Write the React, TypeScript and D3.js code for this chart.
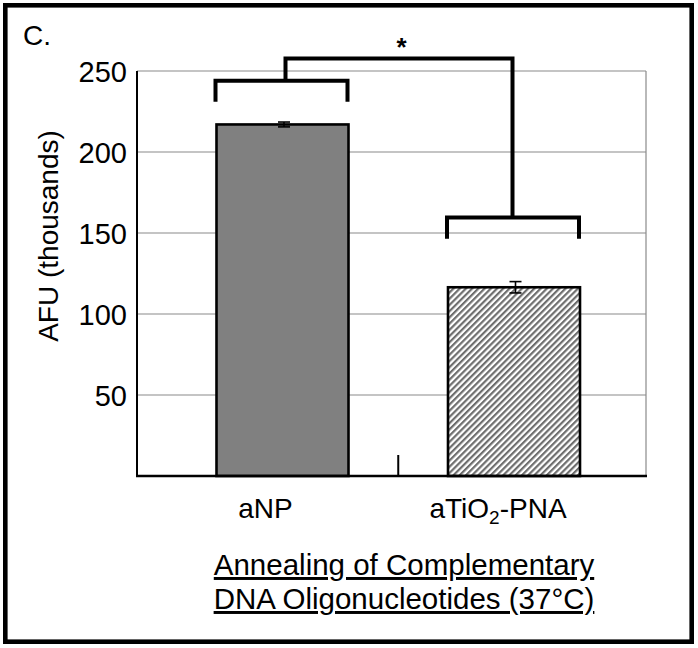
import React from "react";
import * as d3 from "d3";

const categories = ["aNP", "aTiO2-PNA"];
const values = [217, 116.5];
const errors = [1.5, 3.5];
const yTicks = [50, 100, 150, 200, 250];
const bracketArm = [244, 159.5];
const bracketLeg = [231, 146.5];
const bracketTop = 257.7;

const W = 698;
const H = 648;
const plotLeft = 137;
const plotRight = 646;
const plotTop = 71;
const plotBottom = 476;
const barW = 132;
const font = "'Liberation Sans', Arial, Helvetica, sans-serif";

export default function App() {
  const y = d3.scaleLinear().domain([0, 250]).range([plotBottom, plotTop]);
  const x = d3.scalePoint<string>().domain(categories).range([282.5, 514]).padding(0);
  const xs = categories.map((c) => x(c) as number);
  const divider = (xs[0] + xs[1]) / 2;
  const bk = d3.path();
  xs.forEach((cx, i) => {
    bk.moveTo(cx - barW / 2 - 1, y(bracketLeg[i]));
    bk.lineTo(cx - barW / 2 - 1, y(bracketArm[i]));
    bk.lineTo(cx + barW / 2 - 1, y(bracketArm[i]));
    bk.lineTo(cx + barW / 2 - 1, y(bracketLeg[i]));
  });
  bk.moveTo(xs[0] + 3, y(bracketArm[0]));
  bk.lineTo(xs[0] + 3, y(bracketTop));
  bk.lineTo(xs[1] - 1.5, y(bracketTop));
  bk.lineTo(xs[1] - 1.5, y(bracketArm[1]));

  return (
    <svg width={W} height={H} style={{ position: "absolute", left: 0, top: 0, background: "#fff" }} fontFamily={font}>
      <defs>
        <pattern id="hatch" patternUnits="userSpaceOnUse" width={4.4} height={4.4} patternTransform="rotate(45)">
          <rect width={4.4} height={4.4} fill="#fff" />
          <line x1={1.1} y1={0} x2={1.1} y2={4.4} stroke="#6e6e6e" strokeWidth={2.2} />
        </pattern>
      </defs>
      <rect x={0} y={0} width={W} height={H} fill="#fff" />
      <rect x={5.3} y={5.3} width={686.4} height={636.4} fill="none" stroke="#000" strokeWidth={4.6} />
      <text x={23} y={45} fontSize={28}>C.</text>

      {/* gridlines */}
      {yTicks.map((t) => (
        <line key={t} x1={plotLeft} x2={plotRight} y1={y(t)} y2={y(t)} stroke="#8a8a8a" strokeWidth={1.2} />
      ))}
      <line x1={plotRight} x2={plotRight} y1={plotTop} y2={plotBottom} stroke="#8a8a8a" strokeWidth={1.2} />

      {/* bars */}
      {categories.map((c, i) => (
        <rect
          key={c}
          x={xs[i] - barW / 2}
          y={y(values[i])}
          width={barW}
          height={plotBottom - y(values[i])}
          fill={i === 0 ? "#808080" : "url(#hatch)"}
          stroke="#000"
          strokeWidth={2.6}
        />
      ))}
      {/* error bars */}
      {categories.map((c, i) => {
        const cx = xs[i] + 1.5;
        const y1 = y(values[i] + errors[i]);
        const y2 = y(values[i] - errors[i]);
        return (
          <g key={c} stroke="#000" strokeWidth={1.6}>
            <line x1={cx} x2={cx} y1={y1} y2={y2} />
            <line x1={cx - 6} x2={cx + 6} y1={y1} y2={y1} />
            <line x1={cx - 6} x2={cx + 6} y1={y2} y2={y2} />
          </g>
        );
      })}

      {/* axes */}
      <line x1={plotLeft} x2={plotLeft} y1={plotTop} y2={plotBottom + 1} stroke="#000" strokeWidth={2} />
      <line x1={plotLeft - 1} x2={plotRight + 1} y1={plotBottom} y2={plotBottom} stroke="#000" strokeWidth={2.4} />
      <line x1={divider} x2={divider} y1={plotBottom} y2={plotBottom - 21} stroke="#000" strokeWidth={2} />

      {yTicks.map((t) => (
        <text key={t} x={127} y={y(t) + 11} fontSize={29} textAnchor="end">{t}</text>
      ))}
      <text transform={`translate(57.5,236) rotate(-90)`} fontSize={28} textAnchor="middle">AFU (thousands)</text>

      <text x={xs[0] - 17} y={518} fontSize={28} textAnchor="middle">aNP</text>
      <text x={xs[1] - 16} y={518} fontSize={28} textAnchor="middle">
        aTiO<tspan fontSize={19} dy={6}>2</tspan><tspan dy={-6}>-PNA</tspan>
      </text>

      <text x={404} y={575} fontSize={29.5} textAnchor="middle" textDecoration="underline">Annealing of Complementary</text>
      <text x={404} y={609} fontSize={29.5} textAnchor="middle" textDecoration="underline">DNA Oligonucleotides (37°C)</text>

      {/* significance brackets */}
      <path d={bk.toString()} fill="none" stroke="#000" strokeWidth={4} strokeLinejoin="miter" />
      <text x={401.5} y={56} fontSize={26} fontWeight="bold" textAnchor="middle">*</text>
    </svg>
  );
}
